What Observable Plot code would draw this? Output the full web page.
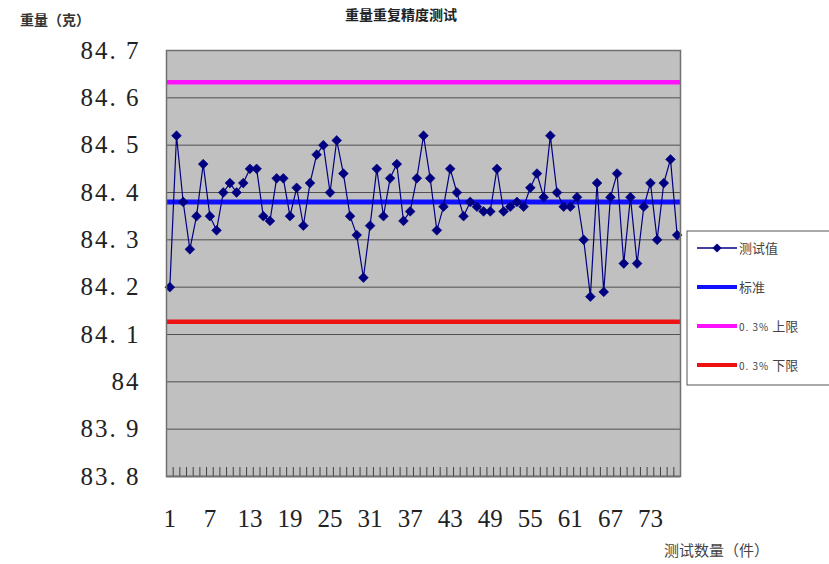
<!DOCTYPE html>
<html>
<head>
<meta charset="utf-8">
<script src="https://cdn.jsdelivr.net/npm/d3@7"></script>
<script src="https://cdn.jsdelivr.net/npm/@observablehq/plot@0.6"></script>
<style>
  html, body { margin: 0; padding: 0; background: #fff; }
  #chart { width: 829px; height: 564px; }
</style>
</head>
<body>
<div id="chart"></div>
<script>
// ---- data ----
const sampleNo = d3.range(1, 78); // 测试数量（件）: 1..77
const measured = [
  84.20, 84.52, 84.38, 84.28, 84.35, 84.46, 84.35, 84.32, 84.40, 84.42,
  84.40, 84.42, 84.45, 84.45, 84.35, 84.34, 84.43, 84.43, 84.35, 84.41,
  84.33, 84.42, 84.48, 84.50, 84.40, 84.51, 84.44, 84.35, 84.31, 84.22,
  84.33, 84.45, 84.35, 84.43, 84.46, 84.34, 84.36, 84.43, 84.52, 84.43,
  84.32, 84.37, 84.45, 84.40, 84.35, 84.38, 84.37, 84.36, 84.36, 84.45,
  84.36, 84.37, 84.38, 84.37, 84.41, 84.44, 84.39, 84.52, 84.40, 84.37,
  84.37, 84.39, 84.30, 84.18, 84.42, 84.19, 84.39, 84.44, 84.25, 84.39,
  84.25, 84.37, 84.42, 84.30, 84.42, 84.47, 84.31
];
const standard = 84.38;   // 标准
const upperLimit = 84.633; // 0.3% 上限
const lowerLimit = 84.127; // 0.3% 下限
const xTickLabels = [1, 7, 13, 19, 25, 31, 37, 43, 49, 55, 61, 67, 73];
const yTickValues = [83.8, 83.9, 84.0, 84.1, 84.2, 84.3, 84.4, 84.5, 84.6, 84.7];
const seriesNames = ["测试值", "标准", "0.3% 上限", "0.3% 下限"];
const seriesColors = ["#000080", "#1010ff", "#ff10ff", "#ee1111"];

const table = sampleNo.map((n, i) => ({n, v: measured[i]}));
const boundaries = d3.range(0, sampleNo.length + 1).map(k => k + 0.5);
const gridValues = yTickValues.slice(1, -1);

const yFmt = d => (Math.abs(d - 84) < 1e-9 ? "84" : d3.format(".1f")(d).replace(".", ". "));

const chart = Plot.plot({
  width: 829,
  height: 564,
  marginLeft: 166,
  marginRight: 149,
  marginTop: 50,
  marginBottom: 88,
  style: {background: "#fff", fontFamily: "Liberation Serif, DejaVu Serif, serif"},
  x: {domain: [0.5, sampleNo.length + 0.5], label: null},
  y: {domain: [83.8, 84.7], label: null},
  marks: [
    Plot.frame({fill: "#c0c0c0"}),
    Plot.ruleY(gridValues, {stroke: "#505050", strokeWidth: 1}),
    Plot.ruleX(boundaries, {x: d => d, y1: 83.8, y2: 83.819, stroke: "#404040", strokeWidth: 1}),
    Plot.ruleY([upperLimit], {stroke: seriesColors[2], strokeWidth: 4.5}),
    Plot.ruleY([lowerLimit], {stroke: seriesColors[3], strokeWidth: 4.5}),
    Plot.ruleY([standard], {stroke: seriesColors[1], strokeWidth: 5}),
    Plot.line(table, {x: "n", y: "v", stroke: seriesColors[0], strokeWidth: 1.2}),
    Plot.dot(table, {x: "n", y: "v", symbol: "diamond2", r: 4.4, fill: seriesColors[0], stroke: seriesColors[0], strokeWidth: 0.6}),
    Plot.ruleY([83.8], {stroke: "#303030", strokeWidth: 1.5}),
    Plot.frame({stroke: "#707070", strokeWidth: 1.5}),
    Plot.axisX({ticks: xTickLabels, tickSize: 0, tickPadding: 33, tickFormat: d => String(d), fontSize: 25, fill: "#222", label: null}),
    Plot.axisY({ticks: yTickValues, tickSize: 0, tickPadding: 26, tickFormat: yFmt, fontSize: 25, fill: "#222", label: null})
  ]
});

document.getElementById("chart").appendChild(chart);

// widen the y tick labels slightly, like the reference's wide serif digits
d3.select(chart).selectAll('g[aria-label="y-axis tick label"] text').attr("letter-spacing", 2);

// ---- titles & legend ----
const svg = d3.select(chart);
const cjk = "Noto Sans CJK SC, sans-serif";

svg.append("text").attr("x", 20).attr("y", 25).attr("text-anchor", "start")
  .attr("font-family", cjk).attr("font-size", 14).attr("font-weight", "bold").attr("fill", "#333")
  .text("重量（克）");
svg.append("text").attr("x", 345).attr("y", 20).attr("text-anchor", "start")
  .attr("font-family", cjk).attr("font-size", 14).attr("font-weight", "bold").attr("fill", "#222")
  .text("重量重复精度测试");
svg.append("text").attr("x", 664).attr("y", 556).attr("text-anchor", "start")
  .attr("font-family", cjk).attr("font-size", 15).attr("fill", "#444")
  .text("测试数量（件）");

const lg = svg.append("g");
lg.append("rect").attr("x", 687).attr("y", 231).attr("width", 150).attr("height", 154)
  .attr("fill", "#fff").attr("stroke", "#555").attr("stroke-width", 1);
const itemY = [248, 287, 326, 365];
seriesNames.forEach((name, i) => {
  const y = itemY[i];
  lg.append("line").attr("x1", 697).attr("x2", 737).attr("y1", y).attr("y2", y)
    .attr("stroke", seriesColors[i]).attr("stroke-width", i === 0 ? 1.5 : 4);
  if (i === 0) {
    lg.append("path").attr("d", d3.symbol(d3.symbolSquare, 40)()).attr("transform", `translate(717,${y}) rotate(45)`)
      .attr("fill", seriesColors[0]);
  }
  const t = lg.append("text").attr("x", 739).attr("y", y + 5).attr("text-anchor", "start")
    .attr("font-family", cjk).attr("font-size", 13).attr("fill", "#444");
  if (name.startsWith("0.3%")) {
    t.append("tspan").attr("font-size", 10).attr("letter-spacing", 1).text("0. 3%");
    t.append("tspan").text(" " + name.split(" ")[1]);
  } else {
    t.text(name);
  }
});
</script>
</body>
</html>
